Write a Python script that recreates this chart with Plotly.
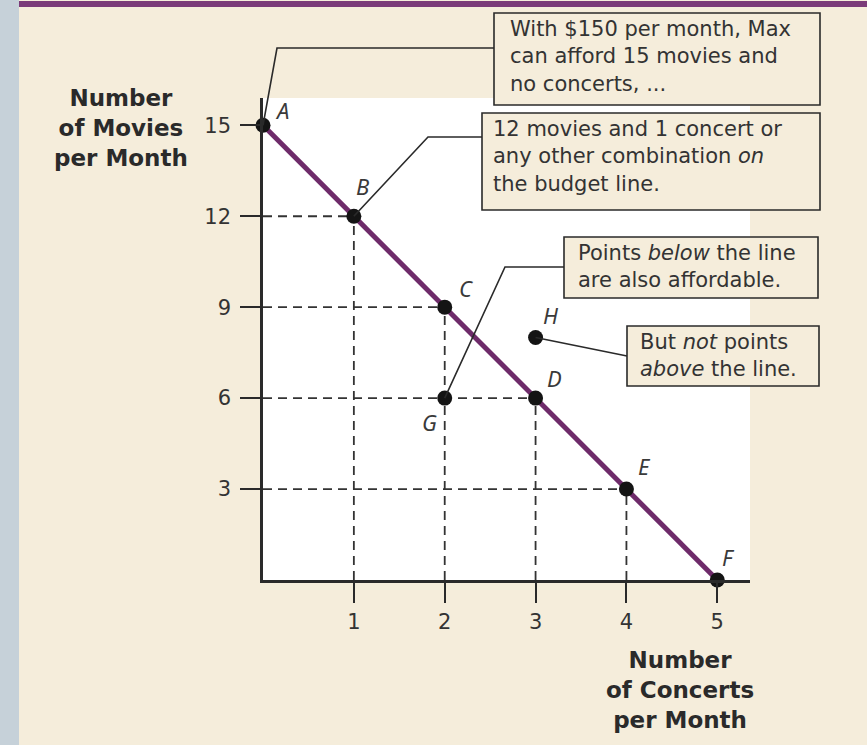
import plotly.graph_objects as go

# ---------------- data ----------------
budget_x = [0, 1, 2, 3, 4, 5]
budget_y = [15, 12, 9, 6, 3, 0]
budget_labels = ["A", "B", "C", "D", "E", "F"]
extra_x = [2, 3]
extra_y = [6, 8]
extra_labels = ["G", "H"]
x_ticks = [1, 2, 3, 4, 5]
y_ticks = [3, 6, 9, 12, 15]

box_texts = [
    "With $150 per month, Max<br>can afford 15 movies and<br>no concerts, ...",
    "12 movies and 1 concert or<br>any other combination <i>on</i><br>the budget line.",
    "Points <i>below</i> the line<br>are also affordable.",
    "But <i>not</i> points<br><i>above</i> the line.",
]
y_title = "Number<br>of Movies<br>per Month"
x_title = "Number<br>of Concerts<br>per Month"

# ---------------- layout constants ----------------
W, H = 867, 745
L, T, R, B = 263, 98, 750, 580
X_MAX, Y_MAX = 5.36, 15.9
CREAM = "#f5eddb"
INK = "#2a2a2a"
TXT = "#333333"
PURPLE = "#6e2b6a"
FONT = "DejaVu Sans"
LFONT = "Noto Sans"


def ppx(px):
    return (px - L) / (R - L)


def ppy(py):
    return (B - py) / (B - T)


def dxp(x):
    return x / X_MAX


def dyp(y):
    return y / Y_MAX


fig = go.Figure()

# dashed guide lines from the budget points B..E
gx, gy = [], []
for x, y in zip(budget_x, budget_y):
    if x == 0 or y == 0:
        continue
    gx += [0, x, None, x, x, None]
    gy += [y, y, None, 0, y, None]
fig.add_trace(go.Scatter(x=gx, y=gy, mode="lines",
                         line=dict(color="#333333", width=1.8, dash="9px,6px"),
                         hoverinfo="skip", showlegend=False, cliponaxis=False))

# budget line
fig.add_trace(go.Scatter(x=budget_x, y=budget_y, mode="lines",
                         line=dict(color=PURPLE, width=5),
                         hoverinfo="skip", showlegend=False, cliponaxis=False))

# points
fig.add_trace(go.Scatter(x=budget_x + extra_x, y=budget_y + extra_y, mode="markers",
                         marker=dict(color="#141414", size=15),
                         hoverinfo="skip", showlegend=False, cliponaxis=False))

shapes = []
# left strip and top band
shapes.append(dict(type="rect", xref="paper", yref="paper",
                   x0=ppx(0), x1=ppx(19), y0=ppy(H), y1=ppy(0),
                   fillcolor="#c6d1d9", line=dict(width=0), layer="below"))
shapes.append(dict(type="rect", xref="paper", yref="paper",
                   x0=ppx(19), x1=ppx(W), y0=ppy(7), y1=ppy(1),
                   fillcolor="#7b3b79", line=dict(width=0), layer="below"))

# leader lines (start at the data point, elbow and end in pixel layout)
pts = dict(zip(budget_labels + extra_labels,
               zip(budget_x + extra_x, budget_y + extra_y)))
leaders = [
    ("A", [(277, 48), (494, 48)]),
    ("B", [(428, 137), (482, 137)]),
    ("G", [(505, 267), (564, 267)]),
    ("H", [(627, 356)]),
]
for lab, rest in leaders:
    x0, y0 = pts[lab]
    path = f"M {dxp(x0)} {dyp(y0)}"
    for (px, py) in rest:
        path += f" L {ppx(px)} {ppy(py)}"
    shapes.append(dict(type="path", xref="paper", yref="paper", path=path,
                       line=dict(color=INK, width=1.6), layer="above"))

# callout boxes (pixel layout): left, top, right, bottom, text inset
boxes = [
    (494, 13, 820, 105, 14),
    (482, 113, 820, 210, 9),
    (564, 237, 818, 298, 12),
    (627, 326, 819, 386, 11),
]
annotations = []
for (bl, bt, br, bb, inset), txt in zip(boxes, box_texts):
    shapes.append(dict(type="rect", xref="paper", yref="paper",
                       x0=ppx(bl), x1=ppx(br), y0=ppy(bb), y1=ppy(bt),
                       fillcolor=CREAM, line=dict(color=INK, width=1.6), layer="above"))
    annotations.append(dict(xref="paper", yref="paper", x=ppx(bl + inset), y=ppy(bt + 2),
                            xanchor="left", yanchor="top", align="left", showarrow=False,
                            text=txt, font=dict(family=FONT, size=21, color=TXT)))

# point letters
offsets = {"A": (19, 15), "B": (9, 30), "C": (21, 19), "D": (19, 20),
           "E": (18, 23), "F": (11, 23), "G": (-15, -24), "H": (15, 22)}
for lab, (x, y) in pts.items():
    ox, oy = offsets[lab]
    annotations.append(dict(x=x, y=y, xref="x", yref="y", text=f"<i>{lab}</i>",
                            showarrow=False, xshift=ox, yshift=oy,
                            font=dict(family=LFONT, size=22, color="#3a3a3a")))

# axis titles
annotations.append(dict(xref="paper", yref="paper", x=ppx(121), y=ppy(128),
                        xanchor="center", yanchor="middle", align="center", showarrow=False,
                        text=f"<b>{y_title}</b>", font=dict(family=FONT, size=23, color=INK)))
annotations.append(dict(xref="paper", yref="paper", x=ppx(680), y=ppy(690),
                        xanchor="center", yanchor="middle", align="center", showarrow=False,
                        text=f"<b>{x_title}</b>", font=dict(family=FONT, size=23, color=INK)))

fig.update_layout(
    width=W, height=H,
    margin=dict(l=L, r=W - R, t=T, b=H - B, autoexpand=False),
    paper_bgcolor=CREAM, plot_bgcolor="white",
    shapes=shapes, annotations=annotations,
    showlegend=False,
    font=dict(family=FONT, color=TXT),
)
fig.update_xaxes(range=[0, X_MAX], tickvals=x_ticks, ticks="outside", ticklen=20,
                 tickwidth=1.8, tickcolor=INK, showline=True, linecolor=INK, linewidth=2.6,
                 showgrid=False, zeroline=False, ticklabelstandoff=1,
                 tickfont=dict(family=FONT, size=21, color=TXT))
fig.update_yaxes(range=[0, Y_MAX], tickvals=y_ticks, ticks="outside", ticklen=20,
                 tickwidth=1.8, tickcolor=INK, showline=True, linecolor=INK, linewidth=2.6,
                 showgrid=False, zeroline=False, ticklabelstandoff=5,
                 tickfont=dict(family=FONT, size=21, color=TXT))

fig.write_html("out.html", config={"displayModeBar": False},
               post_script="document.body.style.margin='0px';")
